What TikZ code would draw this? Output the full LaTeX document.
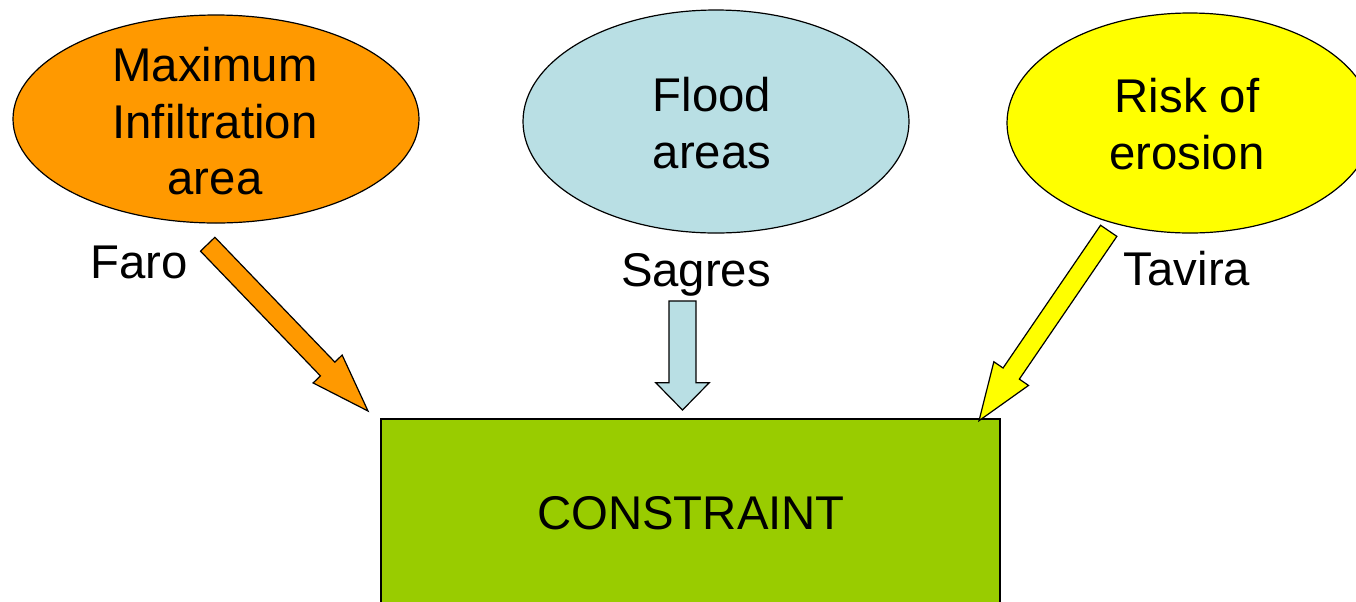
\documentclass[tikz,border=0pt]{standalone}
\usepackage{fontspec}
\setmainfont{Liberation Sans}
\usepackage{tikz}
\usetikzlibrary{calc,shapes.geometric}

\definecolor{infilfill}{RGB}{255,153,0}
\definecolor{floodfill}{RGB}{185,223,228}
\definecolor{erosionfill}{RGB}{255,255,0}
\definecolor{constrfill}{RGB}{153,204,0}

% block arrow: style, tail, tip, shaft half width, head half width, head length
\newcommand{\blockarrow}[6]{%
  \coordinate (hb) at ($(#3)!#6!(#2)$);
  \draw[#1] ($(#2)!#4!90:(#3)$) -- ($(hb)!#4!90:(#3)$) -- ($(hb)!#5!90:(#3)$) -- (#3)
    -- ($(hb)!#5!-90:(#3)$) -- ($(hb)!#4!-90:(#3)$) -- ($(#2)!#4!-90:(#3)$) -- cycle;}

\begin{document}
\begin{tikzpicture}[x=0.75pt,y=0.75pt,yscale=-1,xscale=1,
  bigtext/.style={font=\fontsize{35.5}{42.4}\selectfont, inner sep=0, align=center},
  blob/.style={ellipse, draw=black, line width=0.9pt, inner sep=0}]
\useasboundingbox (0,0) rectangle (1356,601);
\clip (0,0) rectangle (1356,601);
%Shape: Ellipse [id:dp1]
\node[blob, fill=infilfill, minimum width=304.5pt, minimum height=156pt] (infil) at (216,119) {};
\node[bigtext] (infiltxt) at (215,121.5) {Maximum\\Infiltration\\area};
%Shape: Ellipse [id:dp2]
\node[blob, fill=floodfill, minimum width=289.5pt, minimum height=167.25pt] (flood) at (716,121.5) {};
\node[bigtext] (floodtxt) at (712,123) {Flood\\areas};
%Shape: Ellipse [id:dp3]
\node[blob, fill=erosionfill, minimum width=274.5pt, minimum height=165pt] (erosion) at (1190,123) {};
\node[bigtext] (erosiontxt) at (1187,124) {Risk of\\erosion};
%Shape: Rectangle [id:dp4]
\node[draw=black, line width=0.9pt, fill=constrfill, minimum width=464.25pt, minimum height=141pt, inner sep=0] (constr) at (690.5,513) {};
\node[bigtext] (constrtxt) at (691,513) {CONSTRAINT};
% place names
\node[bigtext, anchor=base] (faro) at (139,278) {Faro};
\node[bigtext, anchor=base] (sagres) at (696,286) {Sagres};
\node[bigtext, anchor=base] (tavira) at (1187,285) {Tavira};
% block arrows
\coordinate (infilout) at (207.7,244.2);
\coordinate (infilin) at (368,411);
\coordinate (floodout) at (682.5,301);
\coordinate (floodin) at (682.5,410);
\coordinate (erosionout) at (1108.7,230.8);
\coordinate (erosionin) at (979,420.7);
\blockarrow{draw=black, line width=0.9pt, fill=infilfill, line join=miter}{infilout}{infilin}{7.5pt}{15.1pt}{43.7pt}
\blockarrow{draw=black, line width=0.9pt, fill=floodfill, line join=miter}{floodout}{floodin}{10.1pt}{20.1pt}{20.5pt}
\blockarrow{draw=black, line width=0.9pt, fill=erosionfill, line join=miter}{erosionout}{erosionin}{7.4pt}{15.75pt}{42.8pt}
\end{tikzpicture}
\end{document}
